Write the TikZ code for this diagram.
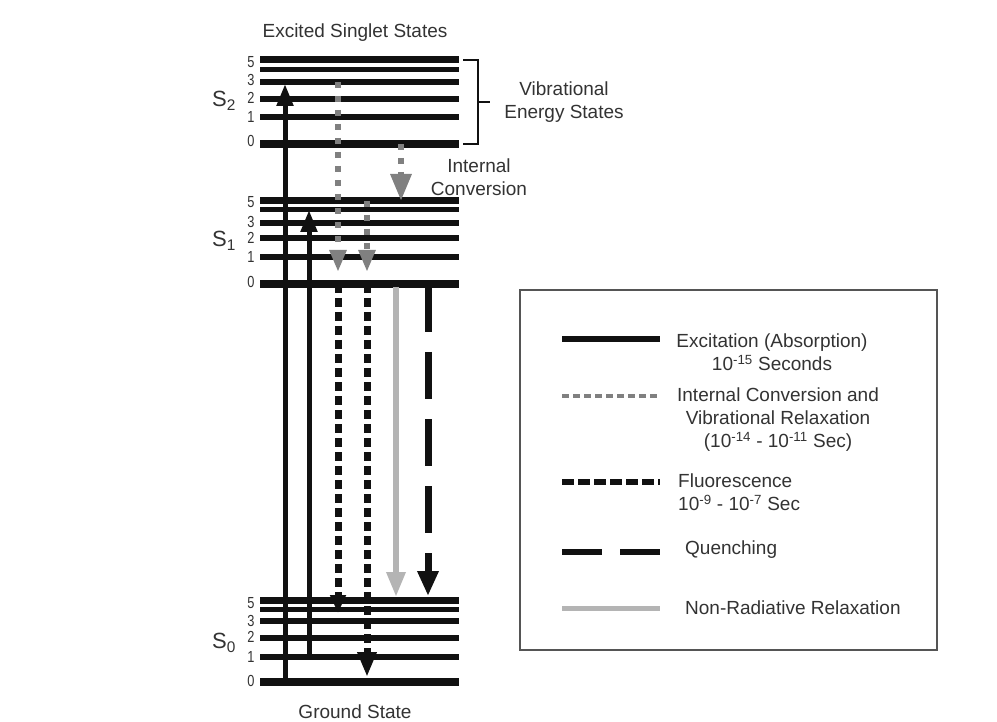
\documentclass[tikz,border=0pt]{standalone}
\usepackage{fontspec}
\setmainfont{Liberation Sans}
\usetikzlibrary{arrows.meta}
\definecolor{txt}{HTML}{333333}
\definecolor{ink}{HTML}{111111}
\definecolor{icgray}{HTML}{808080}
\definecolor{nrgray}{HTML}{B4B4B4}
\definecolor{boxgray}{HTML}{555555}
\tikzset{
  lbl/.style={inner sep=0pt, text=txt, font=\fontsize{19}{23}\selectfont, align=center},
  digit/.style={inner sep=0pt, text=txt, font=\fontsize{16}{16}\selectfont, xscale=0.8},
  slabel/.style={inner sep=0pt, text=txt, font=\fontsize{22}{22}\selectfont, anchor=west},
  level/.style={draw=ink, line width=#1},
  excit/.style={draw=ink, line width=5pt, -{Triangle[width=16pt,length=22pt]}},
  icarrow/.style={draw=icgray, line width=6pt, dash pattern=on 6pt off 8pt},
  fluor/.style={draw=ink, line width=7pt, dash pattern=on 9pt off 5pt},
  quench/.style={draw=ink, line width=7pt, dash pattern=on 47pt off 20pt},
  nonrad/.style={draw=nrgray, line width=6pt},
}
\begin{document}
\begin{tikzpicture}[x=1pt,y=-1pt]
\useasboundingbox[fill=white] (0,0) rectangle (997,722);

% ---- energy levels ----
\foreach \m/\ya/\yb/\yc/\yd/\ye/\yf in {S2/60/70/82/99/117/144, S1/201/210/223/238/257/284, S0/600/609/621/638/657/682}{
  \draw[level=7pt] (260,\ya) -- (459,\ya);
  \draw[level=5pt] (260,\yb) -- (459,\yb);
  \draw[level=6pt] (260,\yc) -- (459,\yc);
  \draw[level=6pt] (260,\yd) -- (459,\yd);
  \draw[level=6pt] (260,\ye) -- (459,\ye);
  \draw[level=8pt] (260,\yf) -- (459,\yf);
}

% ---- level numbers ----
\foreach \y/\t in {62/5,80/3,98/2,117/1,141/0, 202/5,222/3,238/2,257/1,282/0, 603/5,621/3,637/2,657/1,681/0}{
  \node[digit] at (251,\y) {\t};
}

% ---- manifold labels ----
\node[slabel] (s2) at (212,101) {S\textsubscript{2}};
\node[slabel] (s1) at (212,241) {S\textsubscript{1}};
\node[slabel] (s0) at (212,643) {S\textsubscript{0}};

% ---- titles ----
\node[lbl] (exc) at (355,33) {Excited Singlet States};
\node[lbl] (gnd) at (355,712) {Ground State};
\node[lbl] (vib) at (564,102) {Vibrational\\Energy States};
\node[lbl] (icl) at (479,177) {Internal\\Conversion};

% ---- bracket ----
\draw[ink, line width=2.5pt] (463,60) -- (478,60) -- (478,144) -- (463,144);
\draw[ink, line width=2.5pt] (478,102) -- (490,102);

% ---- coordinates for transitions ----
\coordinate (e1a) at (285,682); \coordinate (e1b) at (285,84);
\coordinate (e2a) at (309,657); \coordinate (e2b) at (309,210);
\coordinate (i1a) at (338,82);  \coordinate (i1b) at (338,272);
\coordinate (i2a) at (367,201); \coordinate (i2b) at (367,272);
\coordinate (i3a) at (401,144); \coordinate (i3b) at (401,201);
\coordinate (f1a) at (338,284); \coordinate (f1b) at (338,613);
\coordinate (f2a) at (367,284); \coordinate (f2b) at (367,677);
\coordinate (na) at (396,287);  \coordinate (nb) at (396,597);
\coordinate (qa) at (428,285);  \coordinate (qb) at (428,596);

% ---- transitions ----
\draw[excit] (e1a) -- (e1b);
\draw[excit] (e2a) -- (e2b);
\draw[icarrow, -{Triangle[width=16pt,length=22pt]}] (i1a) -- (i1b);
\draw[icarrow, -{Triangle[width=16pt,length=22pt]}] (i2a) -- (i2b);
\draw[icarrow, -{Triangle[width=20pt,length=27pt]}] (i3a) -- (i3b);
\draw[fluor, -{Triangle[width=15pt,length=18pt]}] (f1a) -- (f1b);
\draw[fluor, -{Triangle[width=18pt,length=25pt]}] (f2a) -- (f2b);
\draw[nonrad, -{Triangle[width=18pt,length=25pt]}] (na) -- (nb);
\draw[quench, -{Triangle[width=20pt,length=25pt]}] (qa) -- (qb);

% ---- legend ----
\node[draw=boxgray, line width=1.5pt, minimum width=417pt, minimum height=360pt, inner sep=0pt] (legend) at (728.5,470) {};
\coordinate (l1a) at (562,339); \coordinate (l1b) at (660,339);
\coordinate (l2a) at (562,396); \coordinate (l2b) at (660,396);
\coordinate (l3a) at (562,482); \coordinate (l3b) at (660,482);
\coordinate (l4a) at (562,552); \coordinate (l4b) at (660,552);
\coordinate (l5a) at (562,608); \coordinate (l5b) at (660,608);
\draw[ink, line width=6pt] (l1a) -- (l1b);
\draw[icgray, line width=4pt, dash pattern=on 7pt off 4pt] (l2a) -- (l2b);
\draw[ink, line width=6pt, dash pattern=on 12pt off 4pt] (l3a) -- (l3b);
\draw[ink, line width=6pt, dash pattern=on 40pt off 18pt] (l4a) -- (l4b);
\draw[nrgray, line width=5pt] (l5a) -- (l5b);

\node[lbl] (t1) at (772,352) {Excitation (Absorption)\\10\textsuperscript{-15} Seconds};
\node[lbl] (t2) at (778,420) {Internal Conversion and\\Vibrational Relaxation\\(10\textsuperscript{-14} - 10\textsuperscript{-11} Sec)};
\node[lbl, anchor=west, align=left] (t3) at (678,492) {Fluorescence\\10\textsuperscript{-9} - 10\textsuperscript{-7} Sec};
\node[lbl, anchor=west] (t4) at (685,550) {Quenching};
\node[lbl, anchor=west] (t5) at (685,608) {Non-Radiative Relaxation};
\end{tikzpicture}
\end{document}
